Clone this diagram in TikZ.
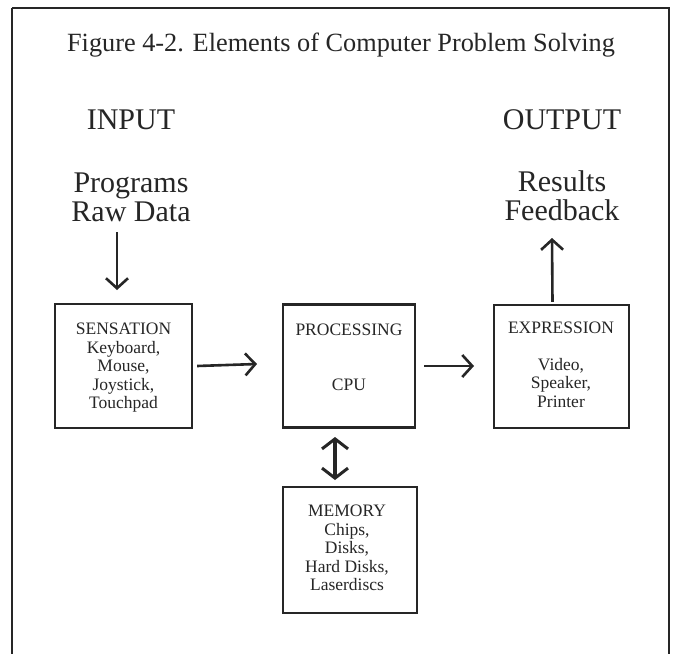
\documentclass[tikz,border=0pt]{standalone}
\usepackage{fontspec}
\setmainfont{Liberation Serif}
\usetikzlibrary{arrows.meta}
\begin{document}
\begin{tikzpicture}[x=1pt,y=-1pt,
  box/.style={draw=black!85,line width=2.2pt},
  boxtxt/.style={font=\fontsize{17.5}{18.5}\selectfont,align=center,inner sep=0pt,text=black!85},
  big/.style={font=\fontsize{30}{29}\selectfont,align=center,inner sep=0pt,text=black!85},
  arr/.style={line width=2.6pt,draw=black!85,-{Straight Barb[length=10pt,width=22pt,line width=2.6pt]}},
  darr/.style={line width=3.4pt,draw=black!85,{Straight Barb[length=10pt,width=26pt,line width=3pt]}-{Straight Barb[length=10pt,width=26pt,line width=3pt]}}]
\useasboundingbox (0,0) rectangle (674,653);
\fill[white] (0,0) rectangle (674,653);
\draw[line width=2pt,black!85] (12,8) -- (669,8) -- (669,665) (12,8) -- (12,665);
\node[inner sep=0pt,text=black!85,font=\fontsize{26.3}{26}\selectfont] (title) at (341,45) {Figure 4-2. Elements of Computer Problem Solving};
\node[big] (input) at (131,120) {INPUT};
\node[big] (output) at (562,120) {OUTPUT};
\node[big] (prog) at (131,197) {Programs\\Raw Data};
\node[big] (res) at (562,196) {Results\\Feedback};
\node[box,minimum width=137pt,minimum height=124pt,inner sep=0pt] (sens) at (123.5,366) {};
\node[box,minimum width=132pt,minimum height=123pt,inner sep=0pt] (proc) at (349,366) {};
\node[box,minimum width=135pt,minimum height=123pt,inner sep=0pt] (expr) at (561.5,366.5) {};
\node[box,minimum width=134pt,minimum height=126pt,inner sep=0pt] (mem) at (350,550) {};
\node[boxtxt] (senst) at (123.5,368) {SENSATION\\Keyboard,\\Mouse,\\Joystick,\\Touchpad};
\node[boxtxt] (proct) at (349,330) {PROCESSING};
\node[boxtxt] (cpu) at (349,385) {CPU};
\node[boxtxt] (exprt) at (561,328) {EXPRESSION};
\node[boxtxt] (exprl) at (561,383) {Video,\\Speaker,\\Printer};
\node[boxtxt] (memt) at (347,548) {MEMORY\\Chips,\\Disks,\\Hard Disks,\\Laserdiscs};
\coordinate (inA) at (117,232);
\coordinate (inB) at (117,290);
\draw[arr] (inA) -- (inB);
\draw[arr] (sens.east)+(4,0) coordinate (a1) -- (257,364) coordinate (a2);
\draw[arr] (proc.east)+(8,0) coordinate (b1) -- (474,366) coordinate (b2);
\draw[arr] (expr.north)+(-9,-2) coordinate (c1) -- (552,238) coordinate (c2);
\draw[darr] (335,437) coordinate (d1) -- (335,480) coordinate (d2);
\end{tikzpicture}
\end{document}
